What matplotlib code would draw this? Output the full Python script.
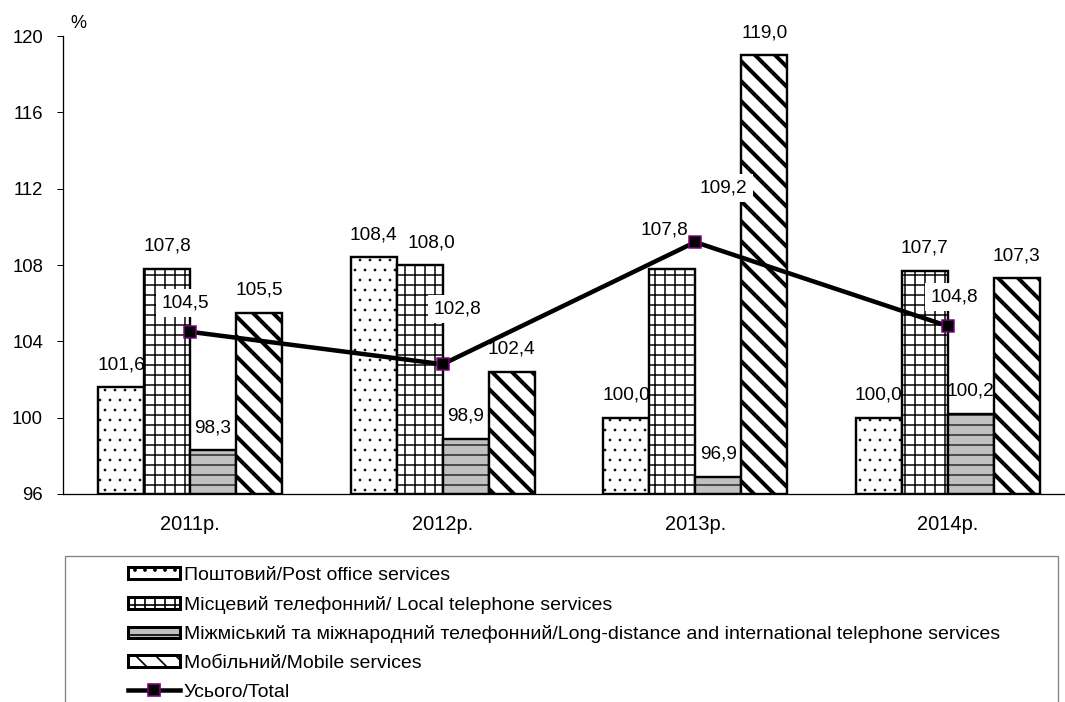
import numpy as np
import matplotlib
matplotlib.use("Agg")
import matplotlib.pyplot as plt
from matplotlib.patches import Patch, Rectangle
from matplotlib.lines import Line2D

plt.rcParams['font.family'] = ['Liberation Sans', 'DejaVu Sans']

# data
years = ['2011р.', '2012р.', '2013р.', '2014р.']
post = [101.6, 108.4, 100.0, 100.0]
local = [107.8, 108.0, 107.8, 107.7]
longdist = [98.3, 98.9, 96.9, 100.2]
mobile = [105.5, 102.4, 119.0, 107.3]
total = [104.5, 102.8, 109.2, 104.8]

names = ['Поштовий/Post office services',
         'Місцевий телефонний/ Local telephone services',
         'Міжміський та міжнародний телефонний/Long-distance and international telephone services',
         'Мобільний/Mobile services']
total_name = 'Усього/Total'

# dpi 120 so the hatch spacing comes out near the original (~10 px)
DPI = 120


def px(p):
    # pixels -> points
    return p * 72.0 / DPI


# label offsets for the total line (pixels)
total_offsets = [(-5, 29), (15, 55), (28, 54), (7, 29)]
# a few bar labels were nudged in the original to dodge the line
bar_label_nudge = {(1, 1): (12, 0), (1, 2): (-8, 16)}

fig = plt.figure(figsize=(1065 / DPI, 702 / DPI), dpi=DPI)
ax = fig.add_axes([0.0592, 0.2963, 0.9398, 0.6524])

x = np.arange(len(years))
w = 0.182
styles = [
    dict(color='white', hatch='..', hlw=0.7),
    dict(color='white', hatch='++', hlw=1.5),
    dict(color='#c0c0c0', hatch='--', hlw=1.2),
    dict(color='white', hatch='\\\\', hlw=4.0),
]
series = [post, local, longdist, mobile]
for i, (vals, st) in enumerate(zip(series, styles)):
    pos = x + (i - 1.5) * w
    with plt.rc_context({'hatch.linewidth': px(st['hlw'])}):
        ax.bar(pos, np.array(vals) - 96, bottom=96, width=w, color=st['color'],
               hatch=st['hatch'], edgecolor='black', linewidth=px(2.4), zorder=2)
    for j, (p, v) in enumerate(zip(pos, vals)):
        dx, dy = bar_label_nudge.get((i, j), (0, 0))
        ax.annotate(f'{v:.1f}'.replace('.', ','), (p, v),
                    xytext=(px(dx), px(14 + dy)),
                    textcoords='offset points', ha='center', va='bottom',
                    fontsize=px(19), zorder=5)

ax.plot(x, total, color='black', linewidth=px(4.5), marker='s',
        markersize=px(12), markerfacecolor='black', markeredgecolor='#800080',
        markeredgewidth=px(1.5), zorder=4)
for xi, v, off in zip(x, total, total_offsets):
    ax.annotate(f'{v:.1f}'.replace('.', ','), (xi, v),
                xytext=(px(off[0]), px(off[1])),
                textcoords='offset points', ha='center', va='center',
                fontsize=px(19), zorder=6,
                bbox=dict(boxstyle='square,pad=0.3', fc='white', ec='none'))

ax.set_ylim(96, 120)
ax.set_yticks(np.arange(96, 121, 4))
ax.set_xlim(-0.503, 3.46)
ax.set_xticks(x)
ax.set_xticklabels(years)
ax.tick_params(axis='x', length=0, labelsize=px(20), pad=px(21))
ax.tick_params(axis='y', length=px(6), width=px(1), labelsize=px(18.5),
               pad=px(14), colors='black')
for s in ['left', 'bottom']:
    ax.spines[s].set_linewidth(px(1.3))
for s in ['top', 'right']:
    ax.spines[s].set_visible(False)
ax.text(-0.475, 120.2, '%', fontsize=px(18), va='bottom', ha='left')

# legend
handles = []
for st in styles:
    handles.append(Patch(facecolor=st['color'], hatch=st['hatch'],
                         edgecolor='black', linewidth=px(3)))
handles.append(Line2D([], [], color='black', linewidth=px(4.5), marker='s',
                      markersize=px(12), markerfacecolor='black',
                      markeredgecolor='#800080'))
fig.legend(handles, names + [total_name], loc='upper left',
           bbox_to_anchor=(128 / 1065, 1 - 567 / 702), frameon=False,
           fontsize=px(19.5), handlelength=2.65, handleheight=0.55,
           handletextpad=0.2, labelspacing=0.6, borderpad=0, borderaxespad=0)
fig.patches.append(Rectangle((65 / 1065, -0.05), (1058 - 65) / 1065,
                             0.05 + (702 - 556) / 702,
                             transform=fig.transFigure, fill=False,
                             edgecolor='#808080', linewidth=px(1.3)))

fig.savefig('out.png', dpi=DPI)
